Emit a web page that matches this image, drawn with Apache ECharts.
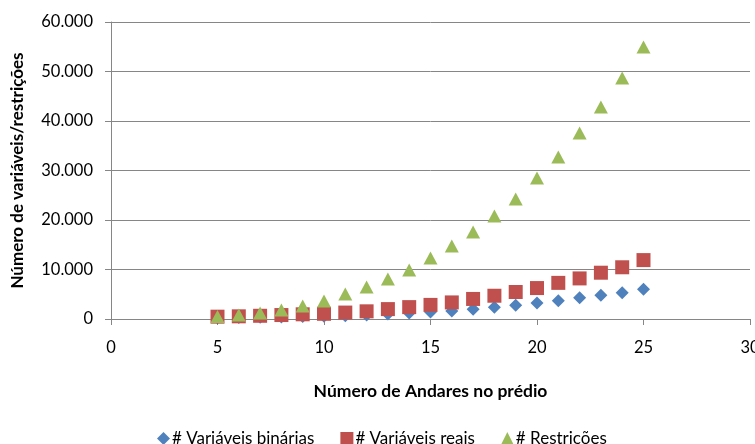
<!DOCTYPE html>
<html>
<head>
<meta charset="utf-8">
<script src="https://cdn.jsdelivr.net/npm/echarts@6/dist/echarts.min.js"></script>
<style>
  html, body { margin: 0; padding: 0; background: #fff; }
  #chart { width: 755px; height: 444px; }
</style>
</head>
<body>
<div id="chart"></div>
<script>
// andares no prédio
var andares = [5, 6, 7, 8, 9, 10, 11, 12, 13, 14, 15, 16, 17, 18, 19, 20, 21, 22, 23, 24, 25];
// valores
var varBinarias = [240, 280, 330, 400, 480, 540, 660, 790, 1000, 1200, 1420, 1600, 1980, 2360, 2760, 3230, 3700, 4300, 4780, 5310, 6000];
var varReais = [470, 540, 650, 800, 950, 1050, 1300, 1550, 2000, 2400, 2850, 3350, 4050, 4700, 5450, 6250, 7300, 8200, 9350, 10450, 11900];
var restricoes = [500, 800, 1200, 1800, 2650, 3650, 5050, 6450, 8100, 9900, 12300, 14750, 17600, 20800, 24250, 28500, 32750, 37600, 42850, 48700, 54950];

var nomes = ['# Variáveis binárias', '# Variáveis reais', '# Restrições'];

function pares(ys) {
    return andares.map(function (x, i) { return [x, ys[i]]; });
}

var chart = echarts.init(document.getElementById('chart'));
var font = 'Lato, "Open Sans", sans-serif';
var cinza = '#868686';

chart.setOption({
    animation: false,
    textStyle: { fontFamily: font },
    grid: { left: 111, right: 5, top: 22, bottom: 125, outerBoundsMode: 'none', containLabel: false },
    legend: {
        data: [
            { name: nomes[0], icon: 'diamond' },
            { name: nomes[1], icon: 'rect' },
            { name: nomes[2], icon: 'triangle' }
        ],
        left: 152,
        top: 425,
        itemWidth: 13,
        itemHeight: 13,
        itemGap: 26,
        textStyle: { fontFamily: font, fontSize: 17, color: '#000', padding: [0, 0, 0, -3] }
    },
    xAxis: {
        type: 'value',
        min: 0,
        max: 30,
        interval: 5,
        name: 'Número de Andares no prédio',
        nameLocation: 'middle',
        nameGap: 63,
        nameTextStyle: { fontFamily: font, fontSize: 17.5, fontWeight: 'bold', color: '#000' },
        axisLine: { show: true, lineStyle: { color: cinza, width: 1 } },
        axisTick: { show: true, length: 6, lineStyle: { color: cinza } },
        axisLabel: { fontFamily: font, fontSize: 16.5, color: '#000', margin: 20 },
        splitLine: { show: false }
    },
    yAxis: {
        type: 'value',
        min: 0,
        max: 60000,
        interval: 10000,
        name: 'Número de variáveis/restrições',
        nameLocation: 'middle',
        nameGap: 85,
        nameTextStyle: { fontFamily: font, fontSize: 17, fontWeight: 'bold', color: '#000' },
        axisLine: { show: true, lineStyle: { color: cinza, width: 1 } },
        axisTick: { show: true, length: 6, lineStyle: { color: cinza } },
        axisLabel: {
            fontFamily: font, fontSize: 16.5, color: '#000', margin: 18,
            formatter: function (v) { return v === 0 ? '0' : (v / 1000) + '.000'; }
        },
        splitLine: { show: true, lineStyle: { color: cinza, width: 1 } }
    },
    series: [
        {
            name: nomes[0], type: 'scatter', symbol: 'diamond', symbolSize: [13, 13],
            itemStyle: { color: '#4F81BD', opacity: 1 },
            data: pares(varBinarias)
        },
        {
            name: nomes[1], type: 'scatter', symbol: 'rect', symbolSize: [14, 14],
            itemStyle: { color: '#C0504D', opacity: 1 },
            data: pares(varReais)
        },
        {
            name: nomes[2], type: 'scatter', symbol: 'triangle', symbolSize: [14, 13],
            itemStyle: { color: '#9BBB59', opacity: 1 },
            data: pares(restricoes)
        }
    ]
});
</script>
</body>
</html>
